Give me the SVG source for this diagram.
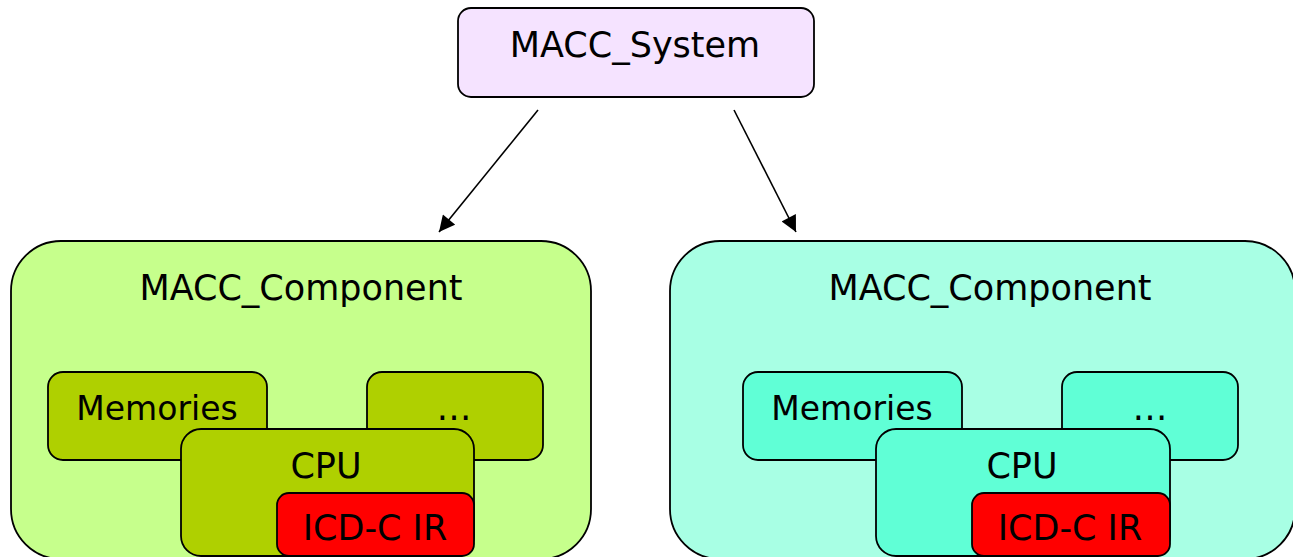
<svg xmlns="http://www.w3.org/2000/svg" width="1293" height="557" viewBox="0 0 1293 557">
<defs>
<marker id="ah" viewBox="0 0 10 10" refX="10" refY="5" markerWidth="17" markerHeight="16" markerUnits="userSpaceOnUse" orient="auto">
<path d="M0,0 L10,5 L0,10 z" fill="#000"/>
</marker>
<style>
.box{stroke:#000;stroke-width:1.8}
.t{font-family:"DejaVu Sans",Verdana,sans-serif;font-size:35px;fill:#000;text-anchor:middle}
.m{font-size:33px}
.sys{fill:#f5e3ff}
.bigL{fill:#c6ff8c}
.bigR{fill:#a8ffe4}
.inL{fill:#afd000}
.inR{fill:#60ffd6}
.red{fill:#ff0000}
.conn{stroke:#000;stroke-width:1.6;fill:none}
</style>
</defs>
<rect width="1293" height="557" fill="#fff"/>
<g id="macc_system">
<rect class="box sys" x="458" y="8" width="356" height="89" rx="13"/>
<text class="t" x="635" y="57">MACC_System</text>
</g>
<g id="connectors">
<line class="conn" x1="538" y1="110" x2="439" y2="232" marker-end="url(#ah)"/>
<line class="conn" x1="734" y1="110" x2="796" y2="232" marker-end="url(#ah)"/>
</g>
<g id="component_left">
<rect class="box bigL" x="11" y="241" width="580" height="318" rx="50"/>
<text class="t" x="301" y="300">MACC_Component</text>
</g>
<g id="memories_left">
<rect class="box inL" x="48" y="372" width="219" height="88" rx="15"/>
<text class="t m" x="157" y="420">Memories</text>
</g>
<g id="dots_left">
<rect class="box inL" x="367" y="372" width="176" height="88" rx="15"/>
<text class="t" x="454" y="420">…</text>
</g>
<g id="cpu_left">
<rect class="box inL" x="181" y="429" width="293" height="127" rx="20"/>
<text class="t" x="326" y="478">CPU</text>
</g>
<g id="icdc_left">
<rect class="box red" x="277" y="493" width="197" height="63" rx="12"/>
<text class="t" x="375" y="540">ICD-C IR</text>
</g>
<g id="component_right">
<rect class="box bigR" x="670" y="241" width="625" height="318" rx="50"/>
<text class="t" x="990" y="300">MACC_Component</text>
</g>
<g id="memories_right">
<rect class="box inR" x="743" y="372" width="219" height="88" rx="15"/>
<text class="t m" x="852" y="420">Memories</text>
</g>
<g id="dots_right">
<rect class="box inR" x="1062" y="372" width="176" height="88" rx="15"/>
<text class="t" x="1150" y="420">…</text>
</g>
<g id="cpu_right">
<rect class="box inR" x="876" y="429" width="294" height="127" rx="20"/>
<text class="t" x="1022" y="478">CPU</text>
</g>
<g id="icdc_right">
<rect class="box red" x="972" y="493" width="198" height="63" rx="12"/>
<text class="t" x="1070" y="540">ICD-C IR</text>
</g>
</svg>
